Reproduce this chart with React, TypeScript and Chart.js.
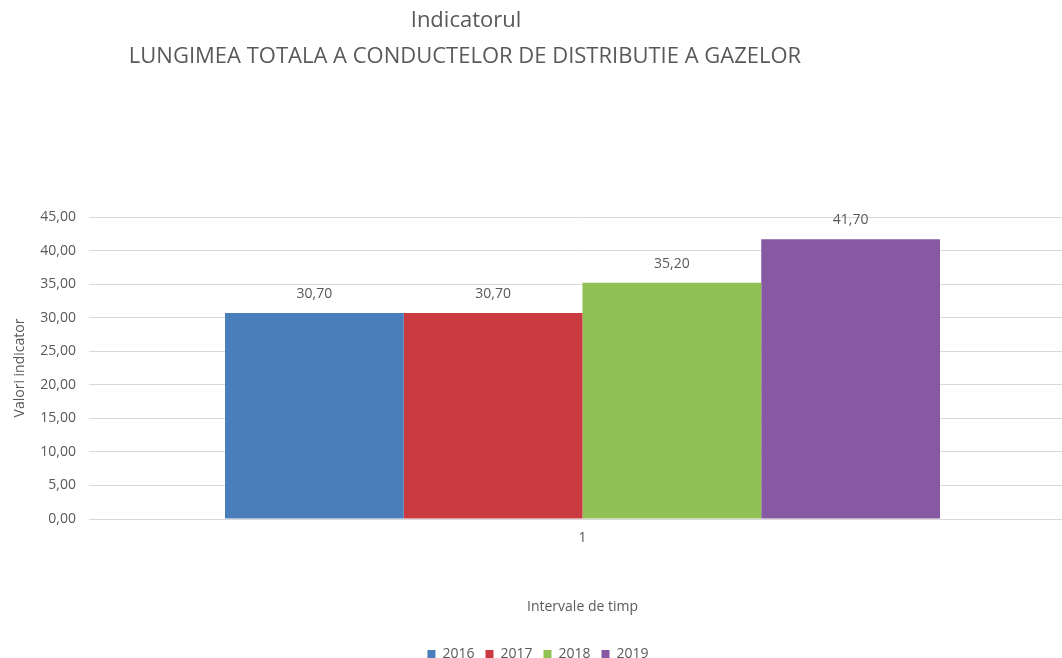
import React, { useEffect, useRef } from "react";
import { Chart, registerables } from "chart.js";

Chart.register(...registerables);

const categories = ["1"];
const seriesNames = ["2016", "2017", "2018", "2019"];
const seriesValues = [[30.7], [30.7], [35.2], [41.7]];
const seriesColors = ["#4A7EBB", "#CA3A41", "#8FC155", "#8759A2"];
const titleLines = ["Indicatorul", "LUNGIMEA TOTALA A CONDUCTELOR DE DISTRIBUTIE A GAZELOR"];
const yTitle = "Valori indicator";
const xTitle = "Intervale de timp";

const FONT = "'Open Sans', sans-serif";
const TEXT = "#595959";

const fmt = (v: number) => v.toFixed(2).replace(".", ",");

const titlePlugin = {
  id: "customTitle",
  afterDraw(chart: any) {
    const ctx = chart.ctx;
    ctx.save();
    ctx.fillStyle = TEXT;
    ctx.font = `22px ${FONT}`;
    ctx.textAlign = "center";
    ctx.textBaseline = "middle";
    ctx.fillText(titleLines[0], 466, 21);
    ctx.fillText(titleLines[1], 465, 57);
    ctx.restore();
  },
};

const labelPlugin = {
  id: "valueLabels",
  afterDatasetsDraw(chart: any) {
    const ctx = chart.ctx;
    ctx.save();
    ctx.fillStyle = TEXT;
    ctx.font = `14px ${FONT}`;
    ctx.textAlign = "center";
    ctx.textBaseline = "middle";
    chart.data.datasets.forEach((ds: any, i: number) => {
      const meta = chart.getDatasetMeta(i);
      meta.data.forEach((el: any, j: number) => {
        ctx.fillText(fmt(ds.data[j]), el.x, el.y - 19);
      });
    });
    ctx.restore();
  },
};

export default function App() {
  const ref = useRef<HTMLCanvasElement | null>(null);
  useEffect(() => {
    if (!ref.current) return;
    const chart = new Chart(ref.current, {
      type: "bar",
      data: {
        labels: categories,
        datasets: seriesNames.map((n, i) => ({
          label: n,
          data: seriesValues[i],
          backgroundColor: seriesColors[i],
          borderWidth: 0,
          categoryPercentage: 0.7244,
          barPercentage: 1,
        })),
      },
      options: {
        animation: false,
        responsive: false,
        maintainAspectRatio: false,
        layout: { padding: { top: 217, left: 0, right: 4, bottom: 0 } },
        plugins: {
          title: { display: false },
          tooltip: { enabled: false },
          legend: {
            position: "bottom",
            labels: {
              boxWidth: 8,
              boxHeight: 8,
              padding: 11,
              color: TEXT,
              font: { family: FONT, size: 14 },
            },
          },
        },
        scales: {
          x: {
            grid: { display: false, drawTicks: false },
            border: { display: false },
            ticks: { color: TEXT, font: { family: FONT, size: 14 }, padding: 11 },
            title: {
              display: true,
              text: xTitle,
              color: TEXT,
              font: { family: FONT, size: 14 },
              padding: { top: 0, bottom: 21 },
            },
            afterFit(scale: any) {
              scale.height = 117;
            },
          },
          y: {
            min: 0,
            max: 45,
            grid: { color: "#D9D9D9", drawTicks: false, lineWidth: 1 },
            border: { display: false },
            ticks: {
              stepSize: 5,
              color: TEXT,
              font: { family: FONT, size: 14 },
              padding: 13,
              callback: (v: any) => fmt(Number(v)),
            },
            title: {
              display: true,
              text: yTitle,
              color: TEXT,
              font: { family: FONT, size: 14 },
              padding: { top: 12, bottom: 0 },
            },
            afterFit(scale: any) {
              scale.width = 89;
            },
          },
        },
      },
      plugins: [titlePlugin, labelPlugin],
    });
    return () => chart.destroy();
  }, []);
  return (
    <div style={{ position: "fixed", left: 0, top: 0, width: 1062, height: 658, overflow: "hidden", background: "#fff" }}>
      <canvas ref={ref} width={1080} height={671} style={{ display: "block", width: 1080, height: 671 }} />
    </div>
  );
}
